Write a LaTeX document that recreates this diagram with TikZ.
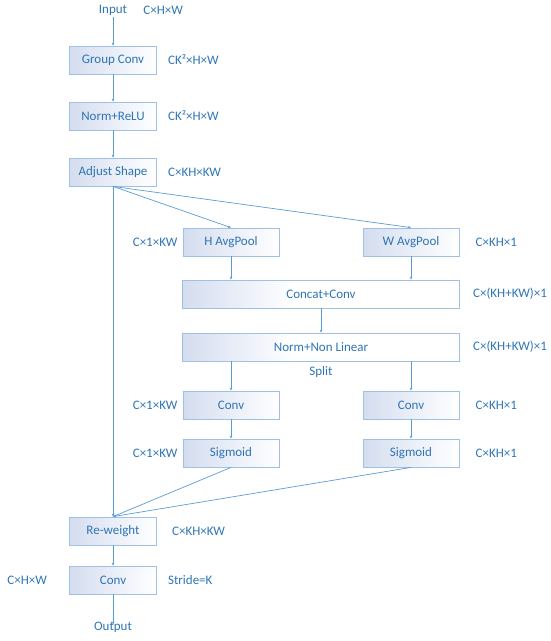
\documentclass[tikz,border=0pt]{standalone}
\usepackage{fontspec}
\setmainfont{Carlito}
\usepackage{xcolor}
\usetikzlibrary{positioning, arrows.meta}
\definecolor{linkblue}{RGB}{91,155,213}
\definecolor{boxedge}{RGB}{160,192,228}
\definecolor{txtblue}{RGB}{46,117,182}
\definecolor{boxshade}{RGB}{212,221,239}
\pgfdeclarehorizontalshading{smallfade}{100bp}{color(0bp)=(boxshade); color(25bp)=(boxshade); color(75bp)=(white); color(100bp)=(white)}
\pgfdeclarehorizontalshading{widefade}{100bp}{color(0bp)=(boxshade); color(25bp)=(boxshade); color(45bp)=(white); color(100bp)=(white)}
\begin{document}
\begin{tikzpicture}[x=1pt, y=-1pt,
    font=\fontsize{13}{15}\selectfont,
    box/.style={draw=boxedge, line width=0.8pt, minimum width=87pt, minimum height=28pt, inner sep=0pt, shading=smallfade, text=txtblue},
    pool/.style={box, minimum width=96pt},
    wide/.style={box, minimum width=277pt, shading=widefade},
    txt/.style={inner sep=0pt, text=txtblue},
    dim/.style={txt},
    arr/.style={-{Stealth[length=3pt, width=2.6pt]}, draw=linkblue, line width=0.7pt}
]
\useasboundingbox (0,0) rectangle (550,641);
% main column
\node[txt] (input) at (113,10) {Input};
\node[box] (gconv) at (113,60) {Group Conv};
\node[box] (normrelu) at (113,116) {Norm+ReLU};
\node[box] (adjust) at (113,172) {Adjust Shape};
% attention branch
\node[pool] (hpool) at (231,242) {H AvgPool};
\node[pool] (wpool) at (411,242) {W AvgPool};
\node[wide] (concat) at (321,294) {Concat+Conv};
\node[wide] (normnl) at (321,347) {Norm+Non Linear};
\node[txt] (split) at (321,372) {Split};
\node[pool] (hconv) at (231,405) {Conv};
\node[pool] (wconv) at (411,405) {Conv};
\node[pool] (hsig) at (231,453) {Sigmoid};
\node[pool] (wsig) at (411,453) {Sigmoid};
% output part
\node[box] (reweight) at (113,531) {Re-weight};
\node[box] (oconv) at (113,580) {Conv};
\node[txt] (output) at (113,627) {Output};
% shape labels
\node[dim, right=16pt of input] (dinput) {C×H×W};
\node[dim, right=11pt of gconv] (dgconv) {CK²×H×W};
\node[dim, right=11pt of normrelu] (dnorm) {CK²×H×W};
\node[dim, right=11pt of adjust] (dadjust) {C×KH×KW};
\node[dim, left=5pt of hpool] (dhpool) {C×1×KW};
\node[dim, right=16pt of wpool] (dwpool) {C×KH×1};
\node[dim, right=13pt of concat] (dconcat) {C×(KH+KW)×1};
\node[dim, right=13pt of normnl] (dnormnl) {C×(KH+KW)×1};
\node[dim, left=5pt of hconv] (dhconv) {C×1×KW};
\node[dim, right=16pt of wconv] (dwconv) {C×KH×1};
\node[dim, left=5pt of hsig] (dhsig) {C×1×KW};
\node[dim, right=16pt of wsig] (dwsig) {C×KH×1};
\node[dim, right=15pt of reweight] (dreweight) {C×KH×KW};
\node[dim, left=22pt of oconv] (doconv) {C×H×W};
\node[dim, right=11pt of oconv] (dstride) {Stride=K};
% connectors
\draw[arr] (input.south) ++(0,2) -- (gconv.north);
\draw[arr] (gconv) -- (normrelu);
\draw[arr] (normrelu) -- (adjust);
\draw[arr] (adjust.south) -- (hpool.north);
\draw[arr] (adjust.south) -- (wpool.north);
\draw[arr] (adjust.south) -- (reweight.north);
\draw[arr] (hpool.south) -- (hpool.south |- concat.north);
\draw[arr] (wpool.south) -- (wpool.south |- concat.north);
\draw[arr] (concat) -- (normnl);
\draw[arr] (hconv.north |- normnl.south) -- (hconv.north);
\draw[arr] (wconv.north |- normnl.south) -- (wconv.north);
\draw[arr] (hconv) -- (hsig);
\draw[arr] (wconv) -- (wsig);
\draw[arr] (hsig.south) -- (reweight.north);
\draw[arr] (wsig.south) -- (reweight.north);
\draw[arr] (reweight) -- (oconv);
\draw[arr] (oconv.south) -- ([yshift=-3pt]output.north);
\end{tikzpicture}
\end{document}
